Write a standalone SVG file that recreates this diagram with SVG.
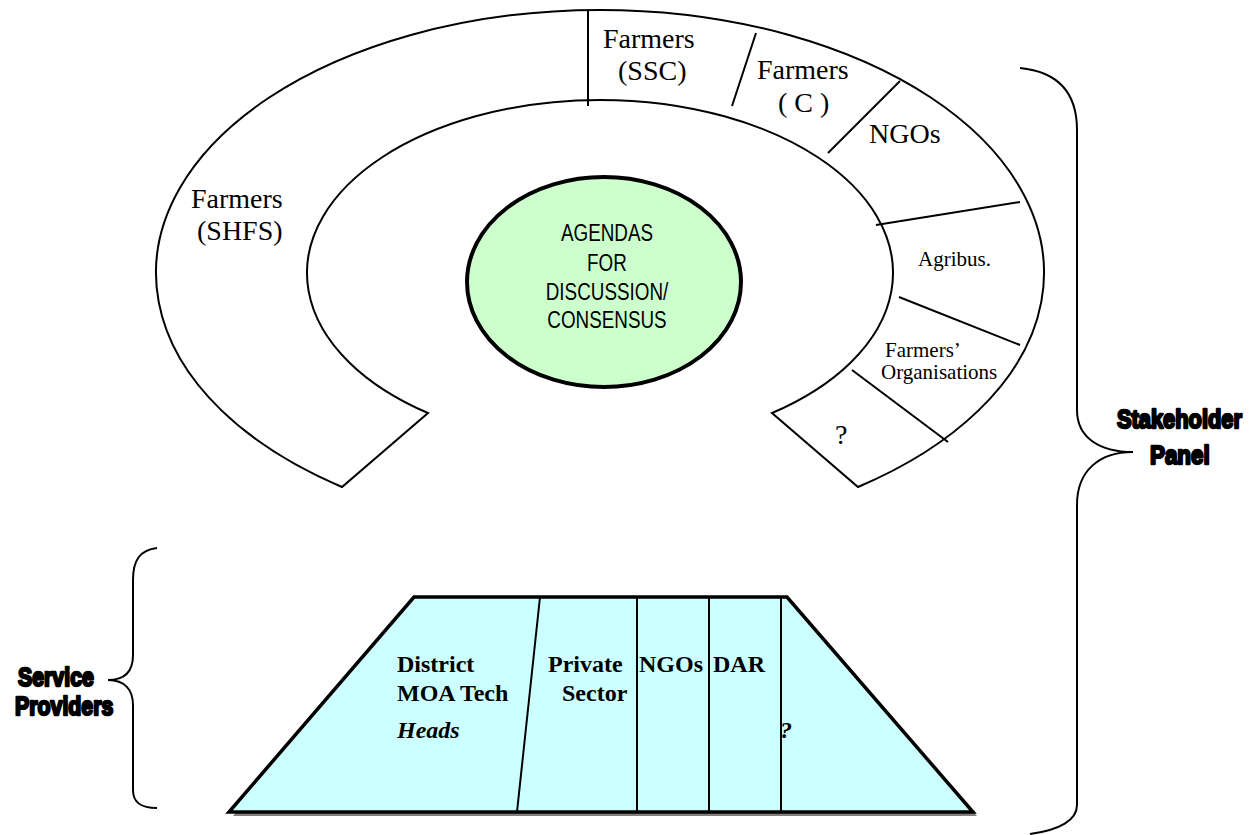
<svg xmlns="http://www.w3.org/2000/svg" width="1254" height="835" viewBox="0 0 1254 835">
<style>
.ln{fill:none;stroke:#000;stroke-width:2}
.tr{font-family:"Liberation Serif","Times New Roman",serif;fill:#000}
.big{font-size:28px}
.sm{font-size:21px}
.bd{font-family:"Liberation Serif","Times New Roman",serif;font-size:24px;font-weight:bold;fill:#000}
.hv{font-family:"Liberation Sans",Arial,sans-serif;font-size:26px;font-weight:bold;fill:#000;stroke:#000;stroke-width:2.4;stroke-linejoin:round}
.ag{font-family:"Liberation Sans",Arial,sans-serif;font-size:23px;fill:#000;text-anchor:middle}
</style>
<rect width="1254" height="835" fill="#fff"/>
<g id="ring">
<path class="ln" d="M342,487 A444,263 0 1 1 858,487 L772,413 A293,173 0 1 0 428,413 Z" fill="#fff"/>
</g>
<g id="ring-dividers">
<line class="ln" x1="588" y1="10" x2="588" y2="106"/>
<line class="ln" x1="756" y1="33" x2="732" y2="106"/>
<line class="ln" x1="900" y1="81" x2="828" y2="153"/>
<line class="ln" x1="1020" y1="202" x2="876" y2="225"/>
<line class="ln" x1="899" y1="297" x2="1020" y2="345"/>
<line class="ln" x1="852" y1="370" x2="948" y2="442"/>
</g>
<g id="seg-shfs"><text class="tr big" x="191" y="208">Farmers</text><text class="tr big" x="197" y="240">(SHFS)</text></g>
<g id="seg-ssc"><text class="tr big" x="603" y="48">Farmers</text><text class="tr big" x="618" y="80">(SSC)</text></g>
<g id="seg-c"><text class="tr big" x="757" y="79">Farmers</text><text class="tr big" x="778" y="112">( C )</text></g>
<g id="seg-ngos"><text class="tr big" x="869" y="143">NGOs</text></g>
<g id="seg-agribus"><text class="tr sm" x="918" y="266">Agribus.</text></g>
<g id="seg-fo"><text class="tr sm" x="885" y="357">Farmers’</text><text class="tr sm" x="881" y="379">Organisations</text></g>
<g id="seg-q"><text class="tr big" x="835" y="444">?</text></g>
<g id="agenda">
<ellipse cx="604" cy="282" rx="137" ry="105" fill="#ccffcc" stroke="#000" stroke-width="4"/>
<g transform="translate(607,0) scale(0.82,1)">
<text class="ag" x="0" y="241">AGENDAS</text>
<text class="ag" x="0" y="271">FOR</text>
<text class="ag" x="0" y="300">DISCUSSION/</text>
<text class="ag" x="0" y="328">CONSENSUS</text>
</g>
</g>
<g id="providers">
<polygon points="418,601 791,601 977,816 233,816" fill="#808080"/>
<polygon points="414,597 787,597 973,812 229,812" fill="#ccffff" stroke="#000" stroke-width="3.5" stroke-linejoin="miter"/>
<line class="ln" x1="540" y1="597" x2="517" y2="812"/>
<line class="ln" x1="637" y1="597" x2="637" y2="812"/>
<line class="ln" x1="709" y1="597" x2="709" y2="812"/>
<line class="ln" x1="781" y1="597" x2="781" y2="812"/>
<text class="bd" x="397" y="672">District</text>
<text class="bd" x="397" y="701">MOA Tech</text>
<text class="bd" x="397" y="738" font-style="italic">Heads</text>
<text class="bd" x="548" y="672">Private</text>
<text class="bd" x="562" y="701">Sector</text>
<text class="bd" x="639" y="672">NGOs</text>
<text class="bd" x="713" y="672">DAR</text>
<text class="bd" x="780" y="738" font-style="italic">?</text>
</g>
<g id="connectors">
<path class="ln" d="M157,548 C140,550 133,560 133,580 L133,655 C133,672 125,680 108,680 C125,680 133,690 133,705 L133,790 C133,802 140,808 157,808"/>
<path class="ln" d="M1020,68 C1060,72 1077,95 1077,130 L1077,410 C1077,438 1100,452 1133,452 C1100,452 1077,470 1077,505 L1077,805 C1077,820 1060,830 1030,834"/>
</g>
<g id="label-service">
<text class="hv" transform="translate(18,686) scale(0.82,1)">Service</text>
<text class="hv" transform="translate(15,715) scale(0.82,1)">Providers</text>
</g>
<g id="label-stake">
<text class="hv" transform="translate(1117,428) scale(0.84,1)">Stakeholder</text>
<text class="hv" transform="translate(1150,464) scale(0.86,1)">Panel</text>
</g>
</svg>
